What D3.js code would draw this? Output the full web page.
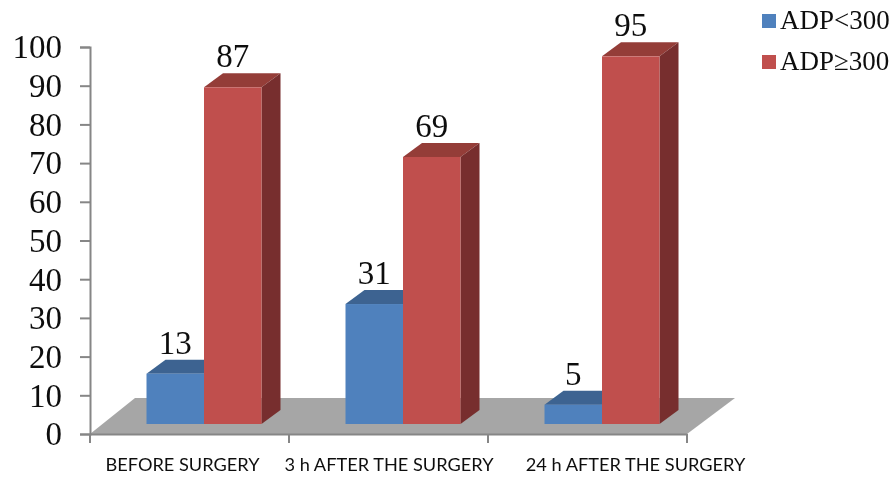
<!DOCTYPE html>
<html>
<head>
<meta charset="utf-8">
<script src="https://cdn.jsdelivr.net/npm/d3@7"></script>
<style>
  html, body { margin: 0; padding: 0; background: #fff; }
  svg { display: block; }
  .num { font-family: "Liberation Serif", serif; fill: #111; }
  .cat { font-family: Lato, sans-serif; font-size: 18.2px; fill: #111; }
</style>
</head>
<body>
<div id="chart"></div>
<script>
const categories = ['BEFORE SURGERY', '3 h AFTER THE SURGERY', '24 h AFTER THE SURGERY'];
const seriesNames = ['ADP<300', 'ADP\u2265300'];
const lowValues = [13, 31, 5];
const highValues = [87, 69, 95];
const yTicks = [0, 10, 20, 30, 40, 50, 60, 70, 80, 90, 100];

const width = 895, height = 478;
const depthX = 19, depthY = 14;
const floorLift = 10;   // bars stand on the floor, a little above the axis line
const barShift = 14.5;  // the pseudo-3D bars sit right of the band centre
const labelNudge = [-7, 0.5, 48]; // category labels are not centred on their bands

const colors = [
  { front: '#4f81bd', top: '#3c6491', side: '#345678' },
  { front: '#c0504d', top: '#943c39', side: '#772f2d' }
];

const svg = d3.select('#chart').append('svg')
  .attr('width', width)
  .attr('height', height);

// The source is a slightly soft raster
const soft = svg.append('defs').append('filter').attr('id', 'soft')
  .attr('x', 0).attr('y', 0).attr('width', 1).attr('height', 1)
  .attr('filterUnits', 'userSpaceOnUse')
  .attr('width', width).attr('height', height);
soft.append('feGaussianBlur').attr('stdDeviation', 0.45);

const root = svg.append('g').attr('filter', 'url(#soft)');

const x = d3.scaleBand().domain(categories).range([90, 687]);
const y = d3.scaleLinear().domain([0, 100]).range([434, 47]);
const series = d3.scaleBand().domain(d3.range(2)).range([0, 115]);

// Floor of the chart
root.append('polygon')
  .attr('points', [[90, 434], [687, 434], [735, 398], [135, 398]].join(' '))
  .attr('fill', '#a6a6a6');

// Axes
const yAxis = d3.axisLeft(y).tickValues(yTicks).tickSize(10).tickPadding(18);
const yG = root.append('g').attr('transform', 'translate(90,0)').call(yAxis);
yG.selectAll('text').attr('class', 'num').style('font-size', '33px').attr('dy', '0.33em');
yG.attr('font-family', null);

const xAxis = d3.axisBottom(x).tickValues([]).tickSizeOuter(0);
const xG = root.append('g').attr('transform', 'translate(0,434)').call(xAxis);

root.selectAll('.band-tick')
  .data([...categories.map(c => x(c)), x.range()[1]])
  .join('line')
  .attr('x1', d => d).attr('x2', d => d)
  .attr('y1', 434).attr('y2', 443);

root.selectAll('.domain, .tick line, line')
  .attr('stroke', '#868686')
  .attr('stroke-width', 2);

root.selectAll('.cat')
  .data(categories)
  .join('text')
  .attr('class', 'cat')
  .attr('x', (d, i) => x(d) + x.bandwidth() / 2 + labelNudge[i])
  .attr('y', 471)
  .attr('text-anchor', 'middle')
  .text(d => d);

// Bars
function drawBar(parent, left, w, value, c) {
  const top = y(value) - floorLift;
  const bottom = y(0) - floorLift;
  const right = left + w;
  parent.append('polygon')
    .attr('points', [[left, top], [right, top], [right + depthX, top - depthY], [left + depthX, top - depthY]].join(' '))
    .attr('fill', c.top);
  parent.append('polygon')
    .attr('points', [[right, top], [right + depthX, top - depthY], [right + depthX, bottom - depthY], [right, bottom]].join(' '))
    .attr('fill', c.side);
  parent.append('rect')
    .attr('x', left).attr('y', top)
    .attr('width', w).attr('height', bottom - top)
    .attr('fill', c.front);
}

const barsG = root.append('g');
const labelsG = root.append('g');
categories.forEach((cat, i) => {
  const start = x(cat) + x.bandwidth() / 2 + barShift - series.bandwidth();
  [lowValues[i], highValues[i]].forEach((v, s) => {
    const left = start + series(s);
    drawBar(barsG, left, series.bandwidth(), v, colors[s]);
    labelsG.append('text')
      .attr('class', 'num')
      .style('font-size', '33px')
      .attr('text-anchor', 'middle')
      .attr('x', left + series.bandwidth() / 2)
      .attr('y', y(v) - floorLift - depthY - 6)
      .text(v);
  });
});

// Legend
seriesNames.forEach((name, s) => {
  const g = root.append('g').attr('transform', `translate(762,${14 + s * 41})`);
  g.append('rect').attr('width', 14).attr('height', 14).attr('fill', colors[s].front);
  g.append('text')
    .attr('class', 'num')
    .style('font-size', '27px')
    .attr('x', 18)
    .attr('y', 15)
    .text(name);
});
</script>
</body>
</html>
